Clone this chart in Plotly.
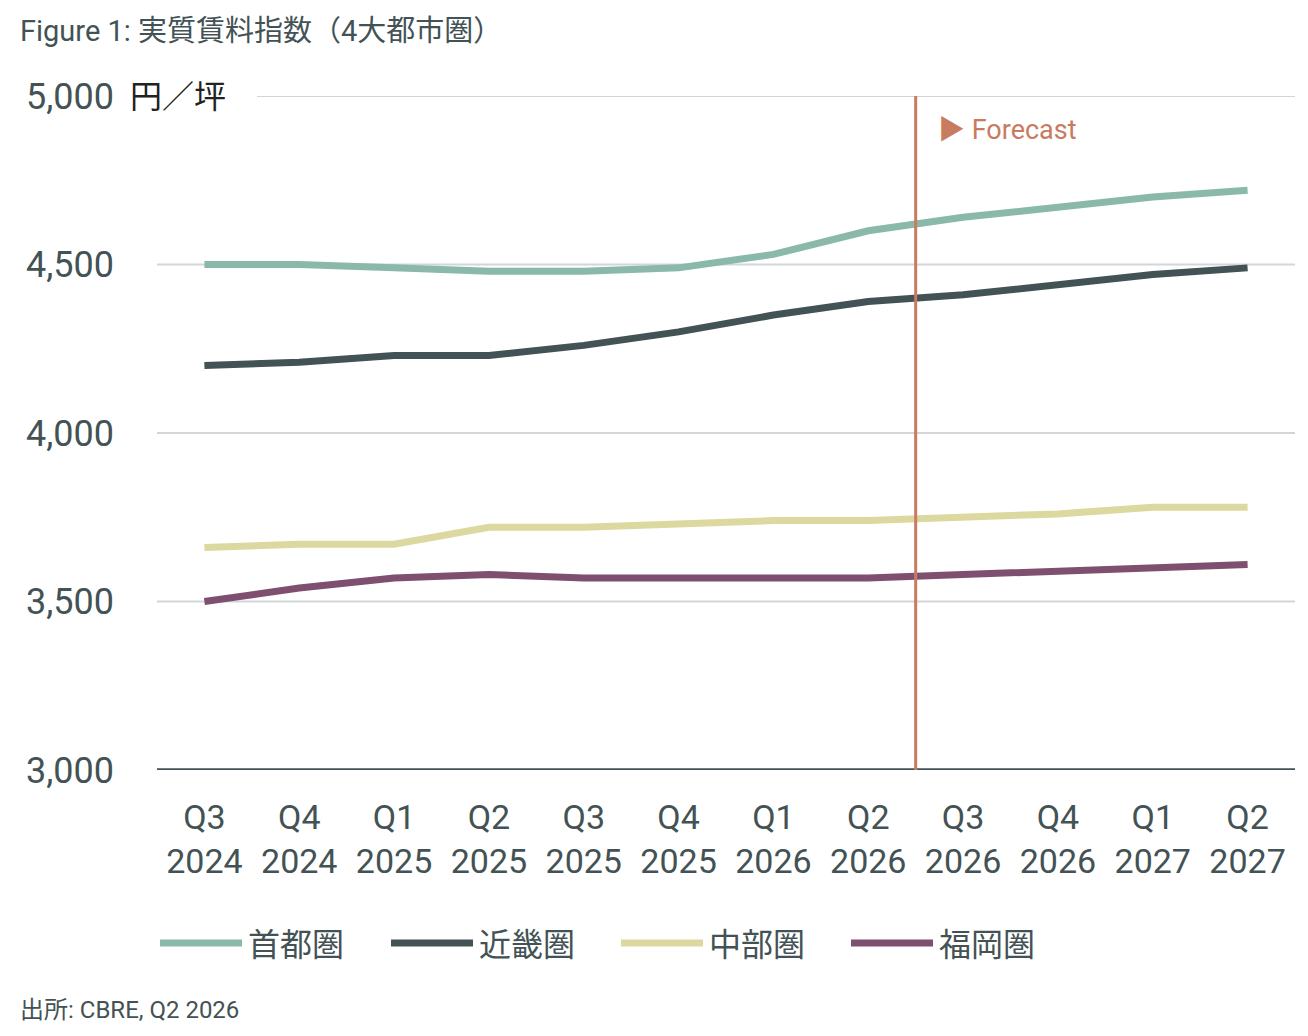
import plotly.graph_objects as go

quarters = ["Q3<br>2024", "Q4<br>2024", "Q1<br>2025", "Q2<br>2025", "Q3<br>2025", "Q4<br>2025",
            "Q1<br>2026", "Q2<br>2026", "Q3<br>2026", "Q4<br>2026", "Q1<br>2027", "Q2<br>2027"]
shutoken = [4500, 4500, 4490, 4480, 4480, 4490, 4530, 4600, 4640, 4670, 4700, 4720]
kinki = [4200, 4210, 4230, 4230, 4260, 4300, 4350, 4390, 4410, 4440, 4470, 4490]
chubu = [3660, 3670, 3670, 3720, 3720, 3730, 3740, 3740, 3750, 3760, 3780, 3780]
fukuoka = [3500, 3540, 3570, 3580, 3570, 3570, 3570, 3570, 3580, 3590, 3600, 3610]
series_names = ["首都圏", "近畿圏", "中部圏", "福岡圏"]
y_ticks = [3000, 3500, 4000, 4500, 5000]
forecast_at = 7.5

COLORS = ["#8ab9ab", "#435254", "#dbd99f", "#7e4f6e"]
TEXT = "#435254"
ORANGE = "#c97b5f"
FONT = "Roboto, Noto Sans CJK JP, sans-serif"

# page body adds an 8px margin, so the figure is drawn 8px smaller and shifted
OFF = 8
W, H = 1308 - 2 * OFF, 1036 - 2 * OFF
L, R, T, B = 157 - OFF, 1295 - OFF, 96 - OFF, 770 - OFF

fig = go.Figure()
x_idx = list(range(len(quarters)))
for name, vals, col in zip(series_names, [shutoken, kinki, chubu, fukuoka], COLORS):
    fig.add_trace(go.Scatter(x=x_idx, y=vals, name=name, mode="lines",
                             line=dict(color=col, width=7), showlegend=False))

# helpers: page pixel -> paper coords
def px(x):
    return (x - OFF - L) / (R - L)

def py(y):
    return (B - (y - OFF)) / (B - T)

# gridlines
for v in y_ticks[1:]:
    x0 = px(257) if v == 5000 else 0
    fig.add_shape(type="line", xref="paper", yref="y", x0=x0, x1=1, y0=v, y1=v,
                  line=dict(color="#d2d6da", width=2), layer="below")
fig.add_shape(type="line", xref="paper", yref="y", x0=0, x1=1, y0=3000, y1=3000,
              line=dict(color=TEXT, width=3.5))
fig.add_shape(type="line", xref="x", yref="paper", x0=forecast_at, x1=forecast_at, y0=0, y1=1,
              line=dict(color=ORANGE, width=3))

annotations = [
    dict(text="Figure 1: 実質賃料指数（4大都市圏）", x=18, y=31, font=dict(size=29, color=TEXT)),
    dict(text="出所: CBRE, Q2 2026", x=18, y=1010, font=dict(size=24, color=TEXT)),
    dict(text="円／坪", x=128, y=97, font=dict(size=32, color="#222222")),
    dict(text="▶ Forecast", x=936, y=130, font=dict(size=27, color=ORANGE)),
]
# legend drawn by hand so the line swatches can be long
leg_x = [160, 391, 621, 851]
for name, col, lx in zip(series_names, COLORS, leg_x):
    fig.add_shape(type="line", xref="paper", yref="paper", x0=px(lx), x1=px(lx + 82),
                  y0=py(943), y1=py(943), line=dict(color=col, width=7))
    annotations.append(dict(text=name, x=lx + 86, y=945, font=dict(size=32, color=TEXT)))

for a in annotations:
    fig.add_annotation(text=a["text"], xref="paper", yref="paper", x=px(a["x"]),
                       y=py(a["y"]), xanchor="left", yanchor="middle",
                       showarrow=False, font=dict(family=FONT, **a["font"]))

fig.update_layout(
    width=W, height=H,
    margin=dict(l=L, r=W - R, t=T, b=H - B),
    plot_bgcolor="white", paper_bgcolor="white",
    font=dict(family=FONT, color=TEXT),
    showlegend=False,
)
fig.update_xaxes(range=[-0.5, 11.5], tickvals=x_idx, ticktext=quarters, showgrid=False,
                 zeroline=False, showline=False, ticks="", tickfont=dict(size=34, color=TEXT),
                 ticklabelstandoff=24)
fig.update_yaxes(range=[3000, 5000], tickvals=y_ticks, tickformat=",d", showgrid=False,
                 zeroline=False, showline=False, ticks="", tickfont=dict(size=36, color=TEXT),
                 ticklabelstandoff=42)

fig.write_html("out.html")
